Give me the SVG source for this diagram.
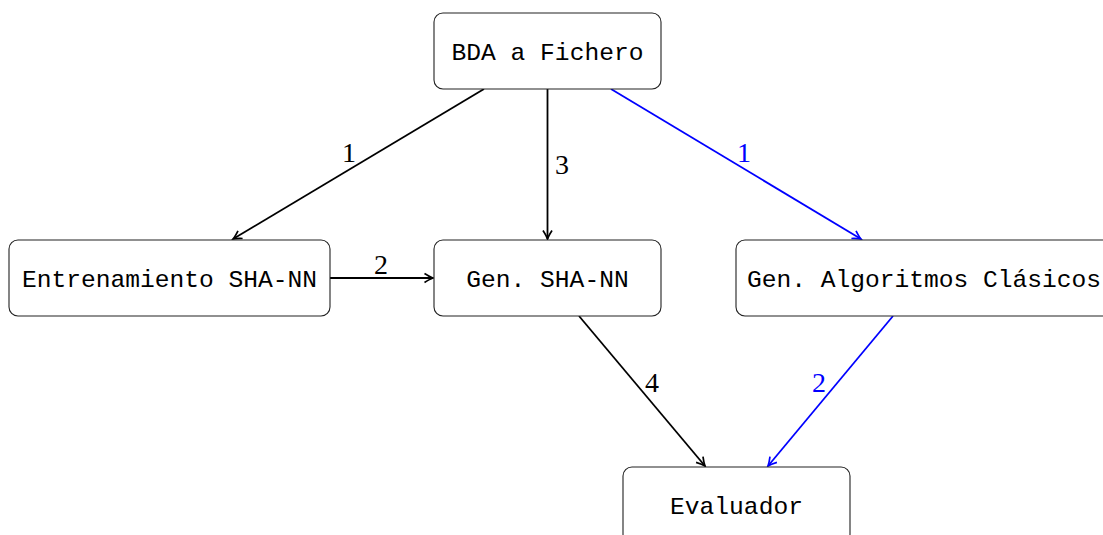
<svg xmlns="http://www.w3.org/2000/svg" width="1103" height="535" viewBox="0 0 1103 535">
<style>
.box{fill:#fff;stroke:#222;stroke-width:1.1}
.t{font-family:"Liberation Mono","DejaVu Sans Mono",monospace;font-size:24.6px;text-anchor:middle;fill:#000}
.e{fill:none;stroke-width:1.8}
.k{stroke:#000}
.b{stroke:#0000ff}
.l{font-family:"Liberation Serif","DejaVu Serif",serif;font-size:28px;text-anchor:middle}
</style>
<defs>
<marker id="ak" viewBox="-10 -6 12 12" markerWidth="12" markerHeight="12" refX="0" refY="0" orient="auto" markerUnits="userSpaceOnUse">
<path d="M-8.5,-4.5 Q-3,-1 0,0 Q-3,1 -8.5,4.5" fill="none" stroke="#000" stroke-width="1.7"/>
</marker>
<marker id="ab" viewBox="-10 -6 12 12" markerWidth="12" markerHeight="12" refX="0" refY="0" orient="auto" markerUnits="userSpaceOnUse">
<path d="M-8.5,-4.5 Q-3,-1 0,0 Q-3,1 -8.5,4.5" fill="none" stroke="#0000ff" stroke-width="1.7"/>
</marker>
</defs>
<g id="connectors">
<line class="e k" x1="484" y1="89" x2="233" y2="239" marker-end="url(#ak)"/>
<line class="e k" x1="547.5" y1="89" x2="547.5" y2="239" marker-end="url(#ak)"/>
<line class="e b" x1="611" y1="89" x2="861" y2="239" marker-end="url(#ab)"/>
<line class="e k" x1="330" y1="278" x2="433" y2="278" marker-end="url(#ak)"/>
<line class="e k" x1="579" y1="316" x2="705" y2="466" marker-end="url(#ak)"/>
<line class="e b" x1="893" y1="316" x2="768" y2="466" marker-end="url(#ab)"/>
<text class="l" x="349" y="162">1</text>
<text class="l" x="562" y="174">3</text>
<text class="l" x="744" y="162" fill="#0000ff">1</text>
<text class="l" x="381" y="274">2</text>
<text class="l" x="652" y="392">4</text>
<text class="l" x="819" y="392" fill="#0000ff">2</text>
</g>
<g id="n-bda">
<rect class="box" x="434" y="13" width="227" height="76" rx="9"/>
<text class="t" x="547.5" y="60">BDA a Fichero</text>
</g>
<g id="n-entr">
<rect class="box" x="9" y="240" width="321" height="76" rx="9"/>
<text class="t" x="169.5" y="287">Entrenamiento SHA-NN</text>
</g>
<g id="n-gen">
<rect class="box" x="434" y="240" width="227" height="76" rx="9"/>
<text class="t" x="547.5" y="287">Gen. SHA-NN</text>
</g>
<g id="n-alg">
<rect class="box" x="736" y="240" width="376" height="76" rx="9"/>
<text class="t" x="924" y="287">Gen. Algoritmos Clásicos</text>
</g>
<g id="n-eval">
<rect class="box" x="623" y="467" width="227" height="76" rx="9"/>
<text class="t" x="736.5" y="514">Evaluador</text>
</g>
</svg>
